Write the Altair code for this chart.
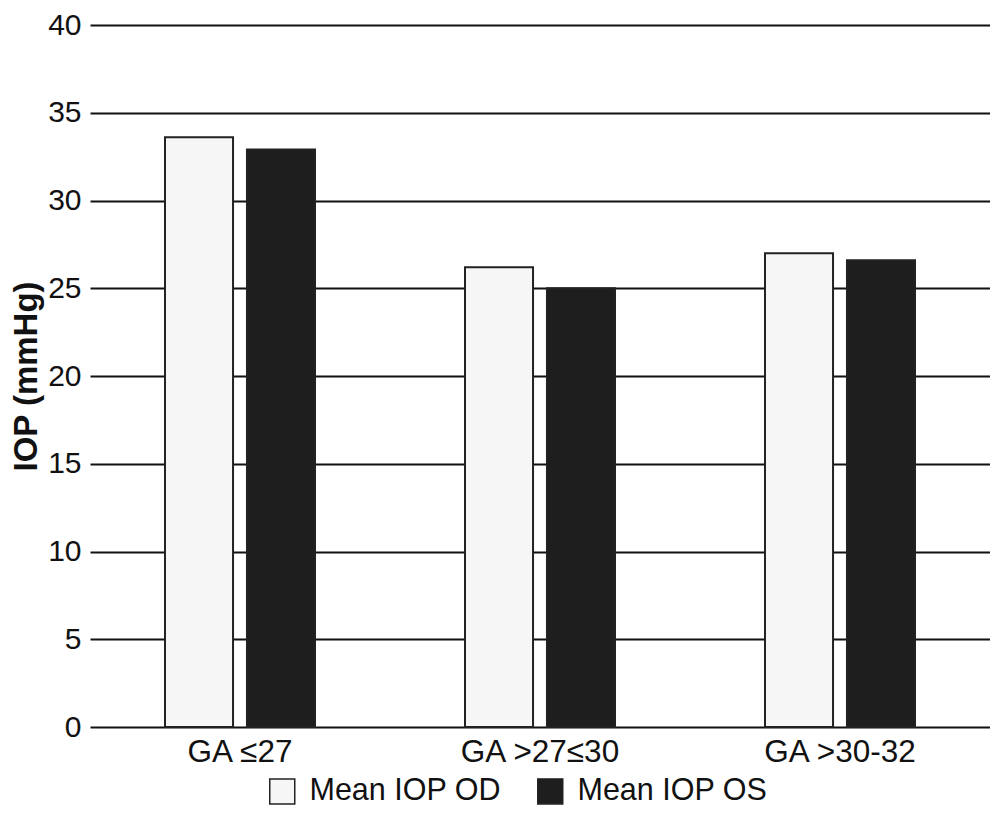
import altair as alt
import pandas as pd

groups = ["GA ≤27", "GA >27≤30", "GA >30-32"]
series = ["Mean IOP OD", "Mean IOP OS"]
od_values = [33.6, 26.2, 27.0]
os_values = [32.9, 25.0, 26.6]
y_ticks = [0, 5, 10, 15, 20, 25, 30, 35, 40]

rows = []
for g, a, b in zip(groups, od_values, os_values):
    rows.append({"group": g, "series": series[0], "value": a})
    rows.append({"group": g, "series": series[1], "value": b})
df = pd.DataFrame(rows)

FONT = "Liberation Sans"

chart = alt.Chart(df).mark_bar(stroke="#222", strokeWidth=2).encode(
    x=alt.X("group:N", sort=groups,
            scale=alt.Scale(paddingInner=0.5, paddingOuter=0.25),
            axis=alt.Axis(title=None, labelAngle=0, labelFontSize=31.5, labelFont=FONT,
                          labelColor="#111", ticks=False, domain=False, labelPadding=9,
                          grid=False)),
    xOffset=alt.XOffset("series:N", sort=series,
                        scale=alt.Scale(paddingInner=0.17, paddingOuter=0)),
    y=alt.Y("value:Q", scale=alt.Scale(domain=[0, 40]),
            axis=alt.Axis(title="IOP (mmHg)", values=y_ticks, labelFontSize=30, labelFont=FONT,
                          labelColor="#111", ticks=False, domain=False, labelPadding=9,
                          grid=True, gridColor="#111", gridWidth=2, gridOpacity=1,
                          titleFont=FONT, titleFontSize=33, titleFontWeight="bold",
                          titleColor="#111", titlePadding=4)),
    color=alt.Color("series:N", sort=series,
                    scale=alt.Scale(domain=series, range=["#f6f6f6", "#1e1e1e"]),
                    legend=alt.Legend(title=None, orient="none", direction="horizontal",
                                      legendX=177, legendY=751, padding=0,
                                      symbolType="square", symbolSize=625,
                                      symbolStrokeColor="#222", symbolStrokeWidth=1.5,
                                      labelFontSize=30.5, labelFont=FONT, labelColor="#111",
                                      labelOffset=12, columnPadding=32,
                                      labelLimit=400)),
).properties(
    width=900,
    height=702,
    background="white",
    autosize=alt.AutoSizeParams(type="none"),
    padding={"left": 82, "top": 17, "right": 0, "bottom": 81},
).configure_view(strokeWidth=0, stroke="transparent")

chart.save("out.html", embed_options={"renderer": "svg", "actions": False})
